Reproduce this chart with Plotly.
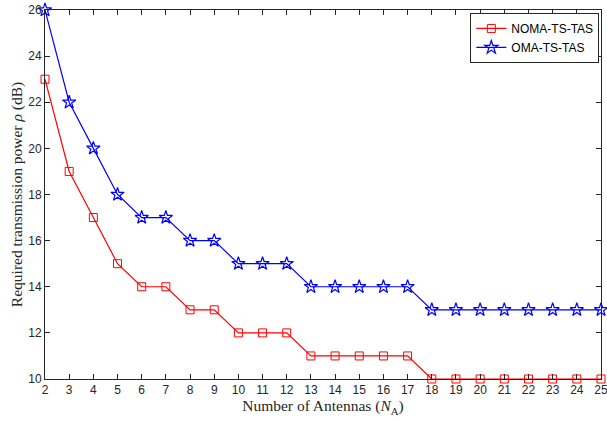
import plotly.graph_objects as go

antennas = list(range(2, 26))
noma = [23, 19, 17, 15, 14, 14, 13, 13, 12, 12, 12, 11, 11, 11, 11, 11, 10, 10, 10, 10, 10, 10, 10, 10]
oma = [26, 22, 20, 18, 17, 17, 16, 16, 15, 15, 15, 14, 14, 14, 14, 14, 13, 13, 13, 13, 13, 13, 13, 13]
xticks = list(range(2, 26))
yticks = list(range(10, 27, 2))

fig = go.Figure()
fig.add_trace(go.Scatter(x=antennas, y=noma, mode="lines+markers", name="NOMA-TS-TAS",
                         cliponaxis=False,
                         line=dict(color="#ff0000", width=1.2),
                         marker=dict(symbol="square-open", size=8, color="#ff0000", line=dict(width=1))))
fig.add_trace(go.Scatter(x=antennas, y=oma, mode="lines+markers", name="OMA-TS-TAS",
                         cliponaxis=False,
                         line=dict(color="#0000ff", width=1.2),
                         marker=dict(symbol="star-open", size=10, color="#0000ff", line=dict(width=1.2))))

axis_common = dict(showline=True, linecolor="#262626", linewidth=1, mirror="ticks",
                   ticks="inside", ticklen=5, tickcolor="#262626", showgrid=False, zeroline=False,
                   automargin=False, ticklabeloverflow="allow",
                   tickfont=dict(family="Liberation Sans, Arial", size=12, color="#262626"))

fig.update_layout(
    width=607, height=422,
    margin=dict(l=45, r=6, t=10, b=43),
    paper_bgcolor="white", plot_bgcolor="white",
    xaxis=dict(range=[2, 25], tickvals=xticks,
               title=dict(text="Number of Antennas (<i>N</i><sub>A</sub>)", standoff=3,
                          font=dict(family="Liberation Serif, Times New Roman", size=15.5, color="#262626")),
               **axis_common),
    yaxis=dict(range=[10, 26], tickvals=yticks,
               title=dict(text="Required transmission power <i>ρ</i> (dB)", standoff=1,
                          font=dict(family="Liberation Serif, Times New Roman", size=15.5, color="#262626")),
               **axis_common),
    legend=dict(x=0.997, y=0.992, xanchor="right", yanchor="top",
                bgcolor="white", bordercolor="#262626", borderwidth=1,
                font=dict(family="Liberation Sans, Arial", size=12, color="#000000"),
                tracegroupgap=0, itemwidth=30),
    showlegend=True,
)

fig.write_html("out.html")
